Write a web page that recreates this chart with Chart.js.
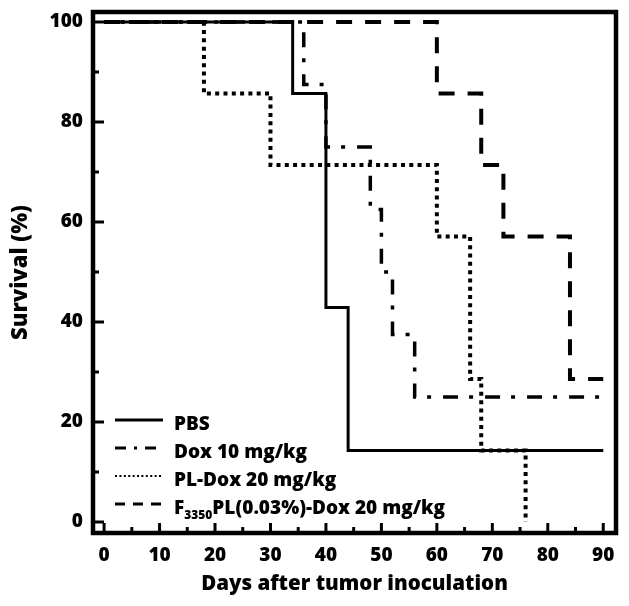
<!DOCTYPE html>
<html>
<head>
<meta charset="utf-8">
<script src="https://cdn.jsdelivr.net/npm/chart.js@4.4.1/dist/chart.umd.min.js"></script>
<style>
  html, body { margin: 0; padding: 0; background: #fff; }
</style>
</head>
<body>
<canvas id="survivalChart" width="629" height="606"></canvas>
<script>
const seriesNames = ['PBS', 'Dox 10 mg/kg', 'PL-Dox 20 mg/kg', 'F3350PL(0.03%)-Dox 20 mg/kg'];

// Kaplan-Meier steps: day of each drop and survival after it
const pbsDays = [0, 34, 40, 44, 90];
const pbsSurvival = [100, 85.7, 42.9, 14.3, 14.3];
const doxDays = [0, 36, 40, 48, 50, 52, 56, 90];
const doxSurvival = [100, 87.5, 75, 62.5, 50, 37.5, 25, 25];
const plDoxDays = [0, 18, 30, 60, 66, 68, 76];
const plDoxSurvival = [100, 85.7, 71.4, 57.1, 28.6, 14.3, 0];
const fplDoxDays = [0, 60, 68, 72, 84, 90];
const fplDoxSurvival = [100, 85.7, 71.4, 57.1, 28.6, 28.6];

const xTicks = [0, 10, 20, 30, 40, 50, 60, 70, 80, 90];
const xMinorTicks = [5, 15, 25, 35, 45, 55, 65, 75, 85];
const yTicks = [0, 20, 40, 60, 80, 100];
const yMinorTicks = [10, 30, 50, 70, 90];

const FONT = '"Open Sans", "DejaVu Sans", sans-serif';
const WEIGHT = '800';

function toPoints(days, values) {
  return days.map((d, i) => ({ x: d, y: values[i] }));
}

const lineStyles = [
  { dash: [], width: 3, legendDash: [], legendWidth: 3 },
  { dash: [15, 11, 4, 12], width: 3.5, legendDash: [11, 8, 3, 8], legendWidth: 3 },
  { dash: [4, 4.3], width: 4, legendDash: [2, 2.4], legendWidth: 2 },
  { dash: [16, 13], width: 4, legendDash: [10, 8], legendWidth: 3 }
];

const allPoints = [
  toPoints(pbsDays, pbsSurvival),
  toPoints(doxDays, doxSurvival),
  toPoints(plDoxDays, plDoxSurvival),
  toPoints(fplDoxDays, fplDoxSurvival)
];

const datasets = allPoints.map((pts, i) => ({
  label: seriesNames[i],
  data: pts,
  stepped: 'before',
  borderColor: '#000',
  borderWidth: lineStyles[i].width,
  borderDash: lineStyles[i].dash,
  borderCapStyle: 'butt',
  pointRadius: 0,
  fill: false
}));

// frame + inward tick marks
const framePlugin = {
  id: 'frame',
  afterDatasetsDraw(chart) {
    const { ctx, chartArea: a, scales } = chart;
    ctx.save();
    ctx.strokeStyle = '#000';
    ctx.lineWidth = 3;
    const xs = scales.x, ys = scales.y;
    xTicks.forEach(v => {
      const px = xs.getPixelForValue(v);
      ctx.beginPath(); ctx.moveTo(px, a.bottom); ctx.lineTo(px, a.bottom - 10); ctx.stroke();
    });
    xMinorTicks.forEach(v => {
      const px = xs.getPixelForValue(v);
      ctx.beginPath(); ctx.moveTo(px, a.bottom); ctx.lineTo(px, a.bottom - 6); ctx.stroke();
    });
    yTicks.forEach(v => {
      const py = ys.getPixelForValue(v);
      ctx.beginPath(); ctx.moveTo(a.left, py); ctx.lineTo(a.left + 11, py); ctx.stroke();
    });
    yMinorTicks.forEach(v => {
      const py = ys.getPixelForValue(v);
      ctx.beginPath(); ctx.moveTo(a.left, py); ctx.lineTo(a.left + 6, py); ctx.stroke();
    });
    ctx.lineWidth = 4.5;
    ctx.strokeRect(a.left, a.top, a.right - a.left, a.bottom - a.top);
    ctx.restore();
  }
};

// legend drawn by hand so the 3350 can be a subscript
const legendPlugin = {
  id: 'survivalLegend',
  afterDatasetsDraw(chart) {
    const ctx = chart.ctx;
    const rowY = [420, 448, 476, 504];
    ctx.save();
    chart.data.datasets.forEach((ds, i) => {
      const y = rowY[i];
      const st = lineStyles[i];
      ctx.strokeStyle = '#000';
      ctx.lineWidth = st.legendWidth;
      ctx.setLineDash(st.legendDash);
      ctx.beginPath(); ctx.moveTo(115, y); ctx.lineTo(163, y); ctx.stroke();
      ctx.setLineDash([]);

      ctx.fillStyle = '#000';
      ctx.textBaseline = 'alphabetic';
      ctx.textAlign = 'left';
      let x = 174;
      const base = y + 10;
      const m = ds.label.match(/^(F)(\d{4})(.*)$/);
      if (m) {
        ctx.font = WEIGHT + ' 19px ' + FONT;
        ctx.fillText(m[1], x, base);
        x += ctx.measureText(m[1]).width;
        ctx.font = WEIGHT + ' 12px ' + FONT;
        ctx.fillText(m[2], x, base + 5);
        x += ctx.measureText(m[2]).width;
        ctx.font = WEIGHT + ' 19px ' + FONT;
        ctx.fillText(m[3], x, base);
      } else {
        ctx.font = WEIGHT + ' 19px ' + FONT;
        ctx.fillText(ds.label, x, base);
      }
    });
    ctx.restore();
  }
};

new Chart(document.getElementById('survivalChart'), {
  type: 'line',
  data: { datasets: datasets },
  options: {
    responsive: false,
    animation: false,
    devicePixelRatio: 1,
    layout: { padding: { top: 12, right: 13, left: 0, bottom: 0 } },
    plugins: {
      legend: { display: false },
      tooltip: { enabled: false }
    },
    scales: {
      x: {
        type: 'linear',
        min: -2,
        max: 92.3,
        afterBuildTicks: s => { s.ticks = xTicks.map(v => ({ value: v })); },
        afterFit: s => { s.height = 73; s.paddingLeft = 0; s.paddingRight = 0; },
        grid: { display: false, drawTicks: false },
        border: { display: false },
        ticks: {
          autoSkip: false,
          maxRotation: 0,
          padding: 11,
          color: '#000',
          font: { family: FONT, size: 19, weight: WEIGHT }
        },
        title: {
          display: true,
          text: 'Days after tumor inoculation',
          color: '#000',
          font: { family: FONT, size: 20.5, weight: WEIGHT },
          padding: { top: 0, bottom: 10 }
        }
      },
      y: {
        type: 'linear',
        min: -2.2,
        max: 102,
        afterBuildTicks: s => { s.ticks = yTicks.map(v => ({ value: v })); },
        afterFit: s => { s.width = 93; s.paddingTop = 0; s.paddingBottom = 0; },
        grid: { display: false, drawTicks: false },
        border: { display: false },
        ticks: {
          autoSkip: false,
          padding: 10,
          color: '#000',
          font: { family: FONT, size: 19, weight: WEIGHT }
        },
        title: {
          display: true,
          text: 'Survival (%)',
          color: '#000',
          font: { family: FONT, size: 22, weight: WEIGHT },
          padding: { top: 8, bottom: 0 }
        }
      }
    }
  },
  plugins: [framePlugin, legendPlugin]
});
</script>
</body>
</html>
